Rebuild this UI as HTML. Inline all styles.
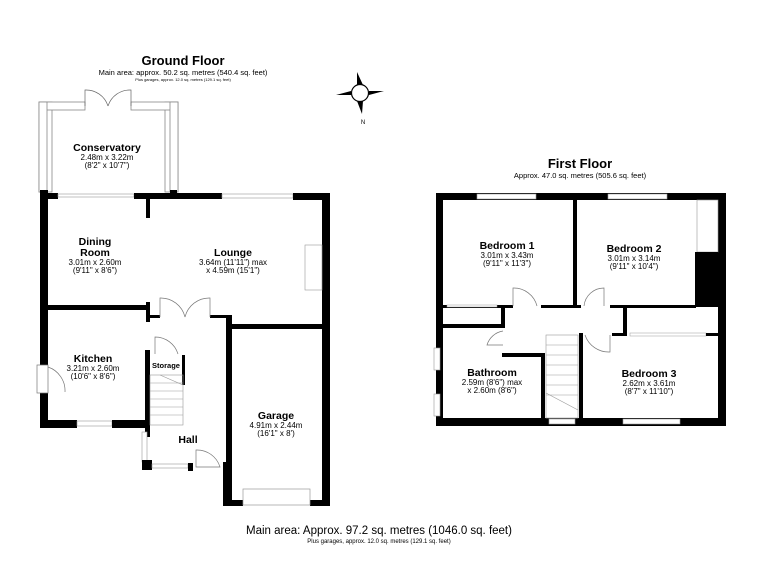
<!DOCTYPE html>
<html><head><meta charset="utf-8"><style>
html,body{margin:0;padding:0;background:#fff;}
svg{display:block;}
text{font-family:"Liberation Sans",Arial,sans-serif;fill:#000;text-anchor:middle;}
.b{font-weight:bold;}
</style></head><body>
<svg width="768" height="576" viewBox="0 0 768 576" xmlns="http://www.w3.org/2000/svg">
<rect width="768" height="576" fill="#fff"/>
<!-- Titles -->
<text x="183" y="65" font-size="13" class="b">Ground Floor</text>
<text x="183" y="75" font-size="7.5">Main area: approx. 50.2 sq. metres (540.4 sq. feet)</text>
<text x="183" y="81" font-size="4">Plus garages, approx. 12.0 sq. metres (129.1 sq. feet)</text>
<text x="580" y="168" font-size="13" class="b">First Floor</text>
<text x="580" y="178" font-size="7.5">Approx. 47.0 sq. metres (505.6 sq. feet)</text>

<!-- Compass -->
<g>
<polygon points="357,85 357,72 363,85" fill="#000"/>
<polygon points="357,101 363,101 362,114" fill="#000"/>
<polygon points="351,91 336,95 351,95" fill="#000"/>
<polygon points="369,91 384,91 369,95" fill="#000"/>
<circle cx="360" cy="93" r="8.5" fill="#fff" stroke="#000" stroke-width="1.2"/>
<text x="363" y="124" font-size="6">N</text>
</g>

<g fill="#000">
<!-- Conservatory frame -->
<rect x="39" y="102" width="13" height="90" fill="none" stroke="#888" stroke-width="0.8"/>
<rect x="165" y="102" width="13" height="90" fill="none" stroke="#888" stroke-width="0.8"/>
<polyline points="44,107 83,107" stroke="#888" stroke-width="0.8" fill="none"/>
<polyline points="52,109 83,109" stroke="#888" stroke-width="0.8" fill="none"/>
<polyline points="44,107 44,190" stroke="#888" stroke-width="0.6" fill="none"/>
<polyline points="131,107 173,107" stroke="#888" stroke-width="0.8" fill="none"/>
<polyline points="131,109 165,109" stroke="#888" stroke-width="0.8" fill="none"/>
<polyline points="173,107 173,190" stroke="#888" stroke-width="0.6" fill="none"/>
<rect x="40" y="102" width="45" height="8" fill="#fff" stroke="#888" stroke-width="0.8"/>
<rect x="131" y="102" width="47" height="8" fill="#fff" stroke="#888" stroke-width="0.8"/>
<rect x="39" y="102" width="8" height="90" fill="#fff" stroke="#888" stroke-width="0.8"/>
<rect x="170" y="102" width="8" height="90" fill="#fff" stroke="#888" stroke-width="0.8"/>
<path d="M85,106 L85,90 A23,23 0 0 1 108,106 M131,106 L131,90 A23,23 0 0 0 108,106" fill="none" stroke="#666" stroke-width="0.7"/>

<!-- Ground floor walls -->
<rect x="40" y="190" width="8" height="175"/>
<rect x="40" y="393" width="8" height="35"/>
<rect x="37" y="365" width="11" height="28" fill="#fff" stroke="#777" stroke-width="0.7"/>
<path d="M48,367 A25,25 0 0 1 65,392" fill="none" stroke="#777" stroke-width="0.7"/>
<rect x="40" y="193" width="18" height="6"/>
<rect x="58" y="194" width="76" height="3" fill="#fff" stroke="#999" stroke-width="0.6"/>
<rect x="134" y="193" width="88" height="6"/>
<rect x="170" y="190" width="7" height="8"/>
<rect x="146" y="198" width="4" height="20"/>
<rect x="222" y="194" width="71" height="4" fill="#fff" stroke="#999" stroke-width="0.6"/>
<rect x="293" y="193" width="37" height="7"/>
<rect x="322" y="193" width="8" height="313"/>
<rect x="305" y="245" width="17" height="45" fill="#fff" stroke="#999" stroke-width="0.6"/>
<rect x="230" y="324" width="92" height="5"/>
<rect x="48" y="305" width="100" height="5"/>
<rect x="146" y="302" width="4" height="20"/>
<rect x="150" y="315" width="10" height="3"/>
<rect x="210" y="315" width="20" height="3"/>
<path d="M160,317 L160,298 A25,25 0 0 1 185,317 M210,317 L210,298 A25,25 0 0 0 185,317" fill="none" stroke="#777" stroke-width="0.7"/>
<rect x="226" y="315" width="6" height="190"/>
<rect x="223" y="462" width="9" height="44"/>
<rect x="223" y="500" width="20" height="6"/>
<rect x="310" y="500" width="20" height="6"/>
<rect x="243" y="489" width="67" height="16" fill="#fff" stroke="#999" stroke-width="0.7"/>
<rect x="40" y="420" width="37" height="8"/>
<rect x="77" y="421" width="35" height="5" fill="#fff" stroke="#999" stroke-width="0.6"/>
<rect x="112" y="420" width="38" height="8"/>
<rect x="145" y="350" width="5" height="87"/>
<rect x="142" y="432" width="5" height="30" fill="#fff" stroke="#999" stroke-width="0.6"/>
<rect x="142" y="460" width="10" height="10"/>
<rect x="152" y="464" width="36" height="4" fill="#fff" stroke="#999" stroke-width="0.6"/>
<rect x="188" y="463" width="5" height="8"/>
<path d="M196,467 L196,450 A24,24 0 0 1 220,467 Z" fill="none" stroke="#777" stroke-width="0.7"/>
<rect x="182" y="355" width="3" height="30"/>
<path d="M155,354 L155,337 A24,24 0 0 1 178,354" fill="none" stroke="#777" stroke-width="0.7"/>
<g stroke="#999" stroke-width="0.6" fill="none">
<rect x="150" y="375" width="33" height="50"/>
<line x1="150" y1="383" x2="183" y2="383"/><line x1="150" y1="391" x2="183" y2="391"/>
<line x1="150" y1="399" x2="183" y2="399"/><line x1="150" y1="407" x2="183" y2="407"/>
<line x1="150" y1="415" x2="183" y2="415"/>
<line x1="160" y1="375" x2="183" y2="385"/>
</g>

<!-- First floor -->
<rect x="436" y="193" width="290" height="7"/>
<rect x="477" y="194" width="59" height="5" fill="#fff" stroke="#999" stroke-width="0.6"/>
<rect x="608" y="194" width="59" height="5" fill="#fff" stroke="#999" stroke-width="0.6"/>
<rect x="436" y="193" width="7" height="233"/>
<rect x="434" y="348" width="6" height="22" fill="#fff" stroke="#999" stroke-width="0.6"/>
<rect x="434" y="394" width="6" height="22" fill="#fff" stroke="#999" stroke-width="0.6"/>
<rect x="718" y="193" width="8" height="233"/>
<rect x="436" y="418" width="290" height="8"/>
<rect x="549" y="419" width="26" height="5" fill="#fff" stroke="#999" stroke-width="0.6"/>
<rect x="623" y="419" width="57" height="5" fill="#fff" stroke="#999" stroke-width="0.6"/>
<rect x="573" y="193" width="4" height="115"/>
<rect x="697" y="200" width="21" height="52" fill="#fff" stroke="#999" stroke-width="0.6"/>
<rect x="695" y="252" width="23" height="55"/>
<rect x="443" y="305" width="70" height="3"/>
<rect x="447" y="305" width="50" height="2" fill="#fff" stroke="#999" stroke-width="0.5"/>
<rect x="501" y="306" width="4" height="22"/>
<rect x="443" y="324" width="60" height="4"/>
<rect x="541" y="305" width="40" height="3"/>
<rect x="610" y="305" width="86" height="3"/>
<path d="M513,306 L513,288 A24,24 0 0 1 537,306 M604,306 L604,288 A20,20 0 0 0 584,306" fill="none" stroke="#777" stroke-width="0.7"/>
<rect x="623" y="308" width="4" height="27"/>
<rect x="612" y="333" width="15" height="3"/>
<rect x="630" y="333" width="76" height="3" fill="#fff" stroke="#999" stroke-width="0.5"/>
<rect x="706" y="333" width="12" height="3"/>
<rect x="579" y="333" width="4" height="93"/>
<path d="M585,335 A25,25 0 0 0 610,352 L610,335" fill="none" stroke="#777" stroke-width="0.7"/>
<rect x="502" y="353" width="43" height="4"/>
<rect x="541" y="353" width="4" height="70"/>
<path d="M503,331 A20,20 0 0 0 487,345 L503,345" fill="none" stroke="#777" stroke-width="0.7"/>
<g stroke="#999" stroke-width="0.6" fill="none">
<rect x="546" y="335" width="32" height="83"/>
<line x1="546" y1="345" x2="578" y2="345"/><line x1="546" y1="355" x2="578" y2="355"/>
<line x1="546" y1="365" x2="578" y2="365"/><line x1="546" y1="375" x2="578" y2="375"/>
<line x1="546" y1="385" x2="578" y2="385"/><line x1="546" y1="395" x2="578" y2="395"/>
<line x1="546" y1="393" x2="578" y2="410"/>
</g>
</g>

<!-- Room labels -->
<g>
<text x="107" y="151" font-size="10.5" class="b">Conservatory</text>
<text x="107" y="160" font-size="8">2.48m x 3.22m</text>
<text x="107" y="168" font-size="8">(8'2" x 10'7")</text>
<text x="95" y="245" font-size="10.5" class="b">Dining</text>
<text x="95" y="256" font-size="10.5" class="b">Room</text>
<text x="95" y="265" font-size="8">3.01m x 2.60m</text>
<text x="95" y="273" font-size="8">(9'11" x 8'6")</text>
<text x="233" y="256" font-size="10.5" class="b">Lounge</text>
<text x="233" y="265" font-size="8">3.64m (11'11") max</text>
<text x="233" y="273" font-size="8">x 4.59m (15'1")</text>
<text x="93" y="362" font-size="10.5" class="b">Kitchen</text>
<text x="93" y="371" font-size="8">3.21m x 2.60m</text>
<text x="93" y="379" font-size="8">(10'6" x 8'6")</text>
<text x="166" y="368" font-size="7.5" class="b">Storage</text>
<text x="188" y="443" font-size="10.5" class="b">Hall</text>
<text x="276" y="419" font-size="10.5" class="b">Garage</text>
<text x="276" y="428" font-size="8">4.91m x 2.44m</text>
<text x="276" y="436" font-size="8">(16'1" x 8')</text>
<text x="507" y="249" font-size="10.5" class="b">Bedroom 1</text>
<text x="507" y="258" font-size="8">3.01m x 3.43m</text>
<text x="507" y="266" font-size="8">(9'11" x 11'3")</text>
<text x="634" y="252" font-size="10.5" class="b">Bedroom 2</text>
<text x="634" y="261" font-size="8">3.01m x 3.14m</text>
<text x="634" y="269" font-size="8">(9'11" x 10'4")</text>
<text x="492" y="376" font-size="10.5" class="b">Bathroom</text>
<text x="492" y="385" font-size="8">2.59m (8'6") max</text>
<text x="492" y="393" font-size="8">x 2.60m (8'6")</text>
<text x="649" y="377" font-size="10.5" class="b">Bedroom 3</text>
<text x="649" y="386" font-size="8">2.62m x 3.61m</text>
<text x="649" y="394" font-size="8">(8'7" x 11'10")</text>
</g>

<text x="379" y="534" font-size="11.5">Main area: Approx. 97.2 sq. metres (1046.0 sq. feet)</text>
<text x="379" y="543" font-size="6">Plus garages, approx. 12.0 sq. metres (129.1 sq. feet)</text>
</svg>
</body></html>
